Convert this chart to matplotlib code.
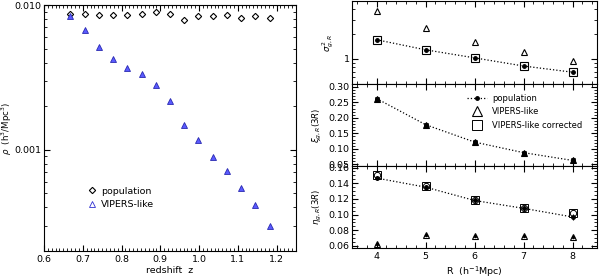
import numpy as np
import matplotlib
matplotlib.use("Agg")
import matplotlib.pyplot as plt
from matplotlib.ticker import MultipleLocator, FixedLocator, NullFormatter, LogLocator, FuncFormatter

# ---------------- data ----------------
z = [0.668, 0.705, 0.742, 0.778, 0.815, 0.852, 0.888, 0.925,
     0.962, 0.998, 1.035, 1.072, 1.108, 1.145, 1.182]
rho_pop = [0.00866, 0.00870, 0.00848, 0.00848, 0.00852, 0.00866, 0.00890, 0.00870,
           0.00783, 0.00838, 0.00842, 0.00858, 0.00810, 0.00845, 0.00810]
rho_vipers = [0.00840, 0.00674, 0.00517, 0.00426, 0.00369, 0.00332, 0.00281, 0.00219,
              0.00149, 0.00117, 0.000893, 0.000715, 0.000547, 0.000419, 0.000300]

R = [4, 5, 6, 7, 8]
sig2_pop = [1.71, 1.29, 1.03, 0.82, 0.69]
sig2_vipers = [3.79, 2.36, 1.62, 1.21, 0.946]
sig2_corr = [1.71, 1.29, 1.03, 0.82, 0.69]

xi_pop = [0.262, 0.178, 0.122, 0.088, 0.063]
xi_vipers = [0.262, 0.178, 0.122, 0.088, 0.063]
xi_corr = [0.262, 0.178, 0.122, 0.088, 0.063]

eta_pop = [0.1466, 0.135, 0.118, 0.108, 0.097]
eta_pop_err = [0.003, 0.003, 0.003, 0.003, 0.004]
eta_vipers = [0.063, 0.074, 0.073, 0.073, 0.071]
eta_corr = [0.150, 0.136, 0.119, 0.109, 0.1015]

# ---------------- style ----------------
FS = 6.8
plt.rcParams['font.family'] = ['DejaVu Sans']
plt.rcParams['font.size'] = FS
plt.rcParams['axes.linewidth'] = 0.8
plt.rcParams['xtick.direction'] = 'in'
plt.rcParams['ytick.direction'] = 'in'
plt.rcParams['xtick.top'] = True
plt.rcParams['ytick.right'] = True
plt.rcParams['xtick.major.size'] = 4
plt.rcParams['ytick.major.size'] = 4
plt.rcParams['xtick.minor.size'] = 2
plt.rcParams['ytick.minor.size'] = 2
plt.rcParams['xtick.minor.visible'] = True
plt.rcParams['ytick.minor.visible'] = True
plt.rcParams['mathtext.fontset'] = 'dejavusans'

fig = plt.figure(figsize=(6.0, 2.79), dpi=100)

# ---------------- left panel ----------------
ax = fig.add_axes([0.0733, 0.100, 0.420, 0.882])
ax.plot(z, rho_pop, ls='none', marker='D', ms=3.2, mfc='none', mec='black', mew=0.8,
        label='population')
ax.plot(z, rho_vipers, ls='none', marker='^', ms=4.4, mfc='#5a5aff', mec='#2a2ab0', mew=0.6,
        label='VIPERS-like')
ax.set_yscale('log')
ax.set_xlim(0.6, 1.25)
ax.set_ylim(2e-4, 1e-2)
ax.xaxis.set_major_locator(MultipleLocator(0.1))
ax.xaxis.set_minor_locator(MultipleLocator(0.01))
ax.xaxis.set_major_formatter(FuncFormatter(lambda v, p: f"{v:.1f}"))
ax.yaxis.set_major_locator(FixedLocator([0.001, 0.01]))
ax.yaxis.set_major_formatter(FuncFormatter(lambda v, p: "0.010" if v > 0.005 else "0.001"))
ax.yaxis.set_minor_locator(LogLocator(base=10, subs=np.arange(2, 10)))
ax.yaxis.set_minor_formatter(NullFormatter())
ax.set_xlabel('redshift  z', labelpad=1, fontsize=FS)
ax.set_ylabel(r'$\rho$  (h$^3$/Mpc$^3$)', labelpad=0, fontsize=6.2)
ax.tick_params(which='both', labelsize=FS, pad=3)
ax.tick_params(axis='y', pad=2)
leg = ax.legend(loc='lower left', bbox_to_anchor=(0.14, 0.135), frameon=False,
                handlelength=0.8, handletextpad=0.6, labelspacing=0.5, fontsize=FS)
leg.legend_handles[1].set_markerfacecolor('none')
leg.legend_handles[1].set_markeredgecolor('#3030d0')

# ---------------- right panels ----------------
x0, w = 0.587, 0.408
h = 0.295
axt = fig.add_axes([x0, 0.110 + 2 * h, w, h])
axm = fig.add_axes([x0, 0.110 + h, w, h])
axb = fig.add_axes([x0, 0.110, w, h])

for a in (axt, axm, axb):
    a.set_xlim(3.5, 8.5)
    a.xaxis.set_major_locator(MultipleLocator(1))
    a.xaxis.set_minor_locator(MultipleLocator(0.2))
    a.tick_params(which='both', labelsize=FS, pad=3)
    a.tick_params(axis='y', pad=2)
for a in (axt, axm):
    a.tick_params(axis='x', labelbottom=False)

# top
axt.plot(R, sig2_pop, ls=':', color='black', lw=0.9, marker='o', ms=2.5,
         mfc='black', mec='black')
axt.plot(R, sig2_vipers, ls='none', marker='^', ms=5, mfc='none', mec='black', mew=0.8)
axt.plot(R, sig2_corr, ls='none', marker='s', ms=5.5, mfc='none', mec='black', mew=0.8)
axt.set_yscale('log')
axt.set_ylim(0.5, 5)
axt.yaxis.set_major_locator(FixedLocator([1]))
axt.yaxis.set_major_formatter(FuncFormatter(lambda v, p: "1"))
axt.yaxis.set_minor_locator(LogLocator(base=10, subs=np.arange(2, 10)))
axt.yaxis.set_minor_formatter(NullFormatter())
axt.set_ylabel(r'$\sigma_{g,R}^{\,2}$', labelpad=4, fontsize=6.2)
axt.yaxis.set_label_coords(-0.065, 0.5)

# middle
axm.plot(R, xi_pop, ls=':', color='black', lw=0.9, marker='o', ms=2.5,
         mfc='black', mec='black', label='population')
axm.plot(R, xi_vipers, ls='none', marker='^', ms=5, mfc='black', mec='black', mew=0.8,
         label='VIPERS-like')
axm.plot(R, xi_corr, ls='none', marker='s', ms=3, mfc='none', mec='black', mew=0.5,
         label='VIPERS-like corrected')
axm.set_ylim(0.045, 0.31)
axm.yaxis.set_major_locator(MultipleLocator(0.05))
axm.yaxis.set_minor_locator(MultipleLocator(0.01))
axm.yaxis.set_major_formatter(FuncFormatter(lambda v, p: f"{v:.2f}"))
axm.set_ylabel(r'$\xi_{g,R}(3R)$', fontsize=6.2)
axm.yaxis.set_label_coords(-0.115, 0.5)
lg = axm.legend(loc='upper left', bbox_to_anchor=(0.44, 0.97), frameon=False,
                handlelength=2.4, handletextpad=0.6, labelspacing=0.55, fontsize=6.0)
lg.legend_handles[1].set_markerfacecolor('none')
lg.legend_handles[1].set_markersize(7)
lg.legend_handles[2].set_markersize(7)
lg.legend_handles[2].set_markeredgewidth(0.7)

# bottom
axb.errorbar(R, eta_pop, yerr=eta_pop_err, ls=':', color='black', lw=0.9, marker='o', ms=2.5,
             mfc='black', mec='black', elinewidth=0.8, capsize=0)
axb.plot(R, eta_vipers, ls='none', marker='^', ms=4, mfc='none', mec='black', mew=0.8)
axb.plot(R, eta_vipers, ls='none', marker='o', ms=1.5, mfc='black', mec='black')
axb.plot(R, eta_corr, ls='none', marker='s', ms=5.5, mfc='none', mec='black', mew=0.7)
axb.plot(R, eta_corr, ls='none', marker='o', ms=4.5, mfc='none', mec='black', mew=0.7)
axb.set_ylim(0.057, 0.162)
axb.yaxis.set_major_locator(MultipleLocator(0.02))
axb.yaxis.set_minor_locator(MultipleLocator(0.005))
axb.yaxis.set_major_formatter(FuncFormatter(lambda v, p: f"{v:.2f}"))
axb.set_ylabel(r'$\eta_{g,R}(3R)$', fontsize=6.2)
axb.yaxis.set_label_coords(-0.115, 0.5)
axb.set_xlabel(r'R  (h$^{-1}$Mpc)', labelpad=2, fontsize=FS)

fig.savefig('out.png', dpi=100)
